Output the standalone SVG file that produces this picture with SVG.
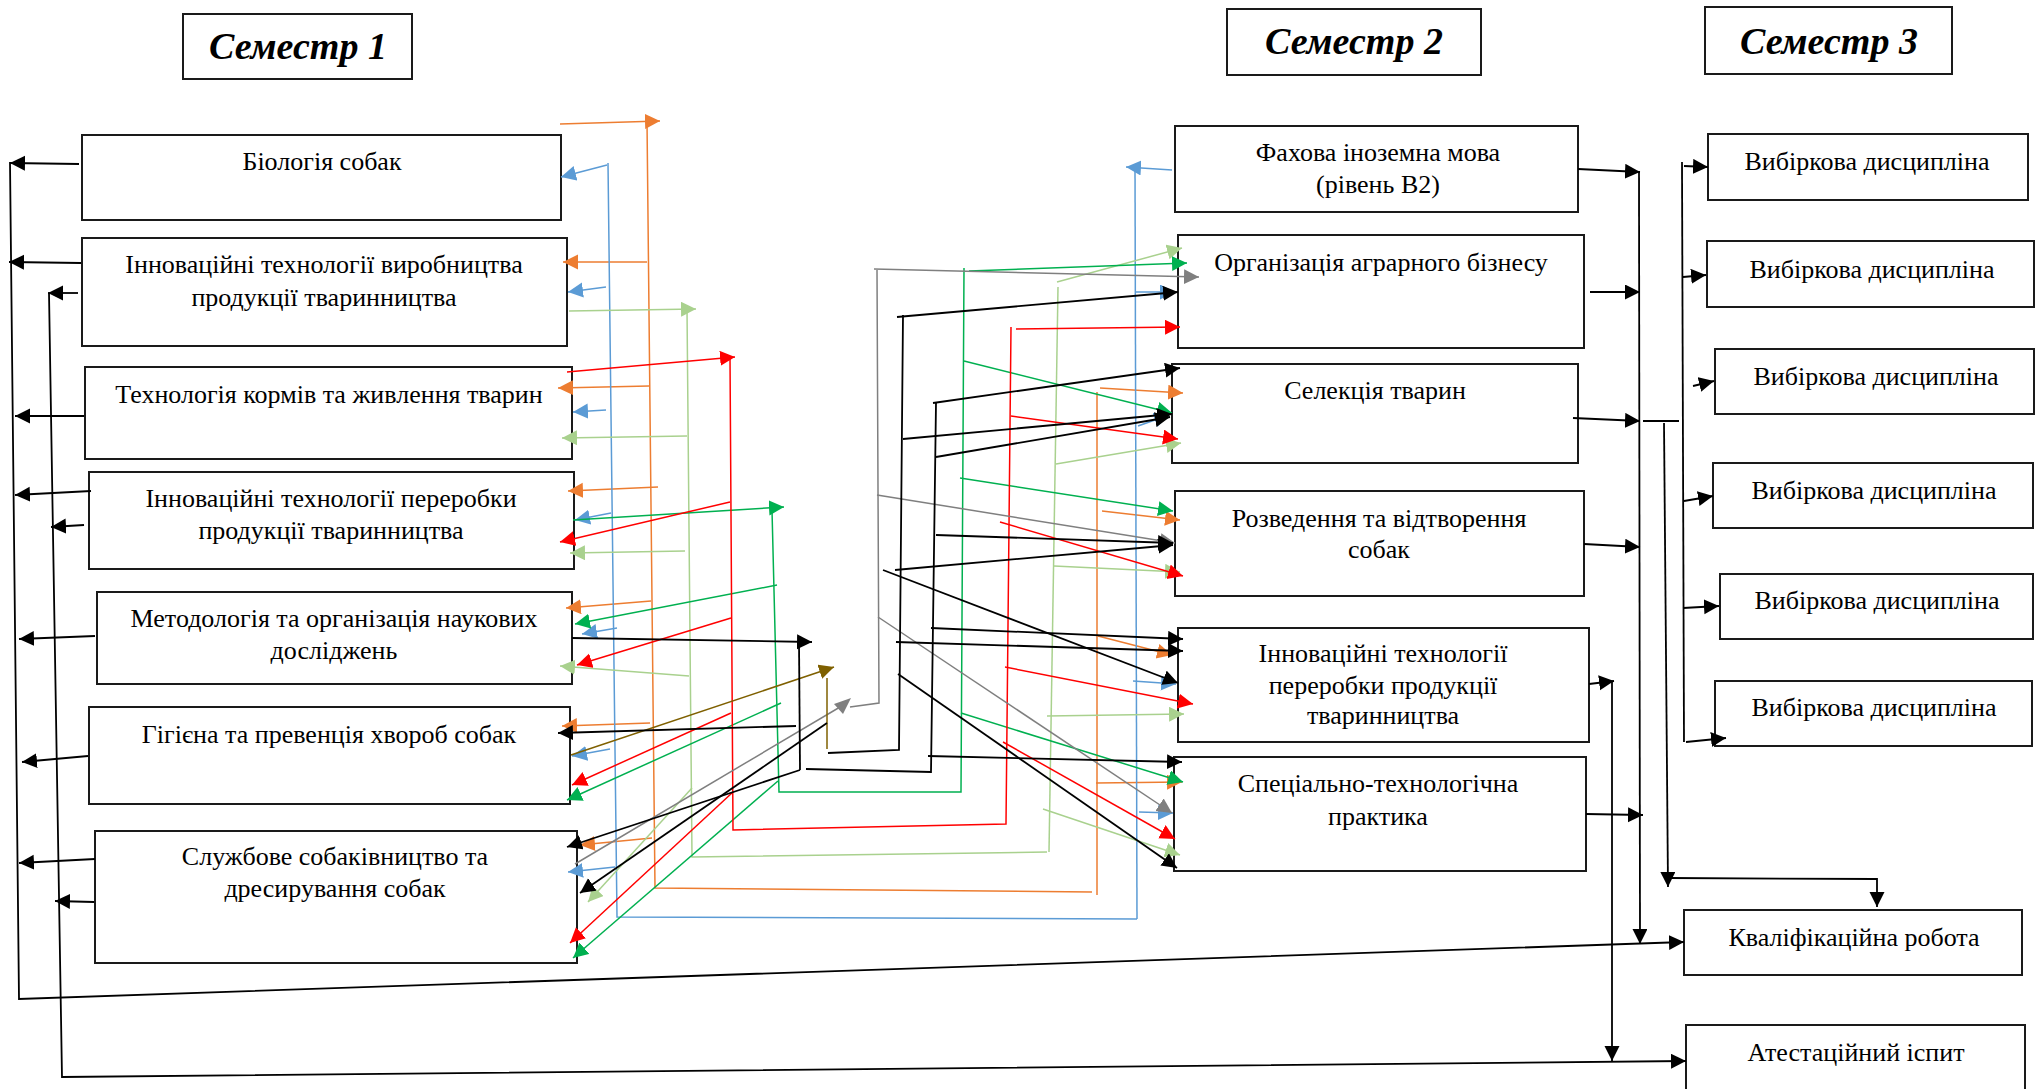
<svg xmlns="http://www.w3.org/2000/svg" width="2035" height="1089" viewBox="0 0 2035 1089">
<style>
.box{fill:#fff;stroke:#1a1a1a;stroke-width:2}
.t{font-family:"Liberation Serif","Times New Roman",serif;font-size:26px;text-anchor:middle;fill:#000}
.h{font-weight:bold;font-style:italic;font-size:38px}
.k{stroke:#000;stroke-width:1.8;fill:none}
.o{stroke:#ED7D31;stroke-width:1.5;fill:none}
.b{stroke:#5B9BD5;stroke-width:1.5;fill:none}
.lg{stroke:#A9D18E;stroke-width:1.5;fill:none}
.g{stroke:#00B050;stroke-width:1.5;fill:none}
.r{stroke:#FF0000;stroke-width:1.5;fill:none}
.gr{stroke:#7F7F7F;stroke-width:1.5;fill:none}
.br{stroke:#7F6000;stroke-width:1.5;fill:none}
.k line.a,.k polyline.a{marker-end:url(#mk)}
</style>
<defs>
<marker id="mk" markerUnits="userSpaceOnUse" markerWidth="16" markerHeight="16" refX="15" refY="7.5" orient="auto"><path d="M0,0 L15,7.5 L0,15 Z" fill="#000"/></marker>
<marker id="mo" markerUnits="userSpaceOnUse" markerWidth="16" markerHeight="16" refX="15" refY="7.5" orient="auto"><path d="M0,0 L15,7.5 L0,15 Z" fill="#ED7D31"/></marker>
<marker id="mb" markerUnits="userSpaceOnUse" markerWidth="16" markerHeight="16" refX="15" refY="7.5" orient="auto"><path d="M0,0 L15,7.5 L0,15 Z" fill="#5B9BD5"/></marker>
<marker id="mlg" markerUnits="userSpaceOnUse" markerWidth="16" markerHeight="16" refX="15" refY="7.5" orient="auto"><path d="M0,0 L15,7.5 L0,15 Z" fill="#A9D18E"/></marker>
<marker id="mg" markerUnits="userSpaceOnUse" markerWidth="16" markerHeight="16" refX="15" refY="7.5" orient="auto"><path d="M0,0 L15,7.5 L0,15 Z" fill="#00B050"/></marker>
<marker id="mr" markerUnits="userSpaceOnUse" markerWidth="16" markerHeight="16" refX="15" refY="7.5" orient="auto"><path d="M0,0 L15,7.5 L0,15 Z" fill="#FF0000"/></marker>
<marker id="mgr" markerUnits="userSpaceOnUse" markerWidth="16" markerHeight="16" refX="15" refY="7.5" orient="auto"><path d="M0,0 L15,7.5 L0,15 Z" fill="#7F7F7F"/></marker>
<marker id="mbr" markerUnits="userSpaceOnUse" markerWidth="16" markerHeight="16" refX="15" refY="7.5" orient="auto"><path d="M0,0 L15,7.5 L0,15 Z" fill="#7F6000"/></marker>
</defs>
<rect width="2035" height="1089" fill="#fff"/>

<!-- headers -->
<g id="sem1"><rect class="box" x="183" y="14" width="229" height="65"/><text class="t h" x="298" y="59">Семестр 1</text></g>
<g id="sem2"><rect class="box" x="1227" y="9" width="254" height="66"/><text class="t h" x="1354" y="54">Семестр 2</text></g>
<g id="sem3"><rect class="box" x="1705" y="7" width="247" height="67"/><text class="t h" x="1829" y="54">Семестр 3</text></g>

<!-- semester 1 nodes -->
<g id="n-biology"><rect class="box" x="82" y="135" width="479" height="85"/><text class="t" x="322" y="170">Біологія собак</text></g>
<g id="n-innov-prod"><rect class="box" x="82" y="238" width="485" height="108"/><text class="t" x="324" y="273">Інноваційні технології виробництва</text><text class="t" x="324" y="306">продукції тваринництва</text></g>
<g id="n-feed"><rect class="box" x="85" y="367" width="487" height="92"/><text class="t" x="329" y="403">Технологія кормів та живлення тварин</text></g>
<g id="n-innov-proc1"><rect class="box" x="89" y="472" width="485" height="97"/><text class="t" x="331" y="507">Інноваційні технології переробки</text><text class="t" x="331" y="539">продукції тваринництва</text></g>
<g id="n-method"><rect class="box" x="97" y="592" width="475" height="92"/><text class="t" x="334" y="627">Методологія та організація наукових</text><text class="t" x="334" y="659">досліджень</text></g>
<g id="n-hygiene"><rect class="box" x="89" y="707" width="481" height="97"/><text class="t" x="329" y="743">Гігієна та превенція хвороб собак</text></g>
<g id="n-service"><rect class="box" x="95" y="831" width="482" height="132"/><text class="t" x="335" y="865">Службове собаківництво та</text><text class="t" x="335" y="897">дресирування собак</text></g>

<!-- semester 2 nodes -->
<g id="n-language"><rect class="box" x="1175" y="126" width="403" height="86"/><text class="t" x="1378" y="161">Фахова іноземна мова</text><text class="t" x="1378" y="193">(рівень В2)</text></g>
<g id="n-business"><rect class="box" x="1178" y="235" width="406" height="113"/><text class="t" x="1381" y="271">Організація аграрного бізнесу</text></g>
<g id="n-selection"><rect class="box" x="1172" y="364" width="406" height="99"/><text class="t" x="1375" y="399">Селекція тварин</text></g>
<g id="n-breeding"><rect class="box" x="1175" y="491" width="409" height="105"/><text class="t" x="1379" y="527">Розведення та відтворення</text><text class="t" x="1379" y="558">собак</text></g>
<g id="n-innov-proc2"><rect class="box" x="1178" y="628" width="411" height="114"/><text class="t" x="1383" y="662">Інноваційні технології</text><text class="t" x="1383" y="694">переробки продукції</text><text class="t" x="1383" y="724">тваринництва</text></g>
<g id="n-practice"><rect class="box" x="1174" y="757" width="412" height="114"/><text class="t" x="1378" y="792">Спеціально-технологічна</text><text class="t" x="1378" y="825">практика</text></g>

<!-- semester 3 nodes -->
<g id="n-elective1"><rect class="box" x="1708" y="134" width="320" height="66"/><text class="t" x="1867" y="170">Вибіркова дисципліна</text></g>
<g id="n-elective2"><rect class="box" x="1707" y="241" width="327" height="66"/><text class="t" x="1872" y="278">Вибіркова дисципліна</text></g>
<g id="n-elective3"><rect class="box" x="1715" y="349" width="319" height="65"/><text class="t" x="1876" y="385">Вибіркова дисципліна</text></g>
<g id="n-elective4"><rect class="box" x="1713" y="463" width="320" height="65"/><text class="t" x="1874" y="499">Вибіркова дисципліна</text></g>
<g id="n-elective5"><rect class="box" x="1720" y="574" width="313" height="65"/><text class="t" x="1877" y="609">Вибіркова дисципліна</text></g>
<g id="n-elective6"><rect class="box" x="1715" y="681" width="317" height="65"/><text class="t" x="1874" y="716">Вибіркова дисципліна</text></g>
<g id="n-thesis"><rect class="box" x="1684" y="910" width="338" height="65"/><text class="t" x="1854" y="946">Кваліфікаційна робота</text></g>
<g id="n-exam"><rect class="box" x="1686" y="1025" width="339" height="70"/><text class="t" x="1856" y="1061">Атестаційний іспит</text></g>

<g id="connectors">
 <!-- orange -->
 <g class="o">
  <line x1="560" y1="124" x2="660" y2="121" marker-end="url(#mo)"/>
  <polyline points="647,121 655,888 1092,892"/>
  <line x1="1097" y1="895" x2="1097" y2="392"/>
  <line x1="647" y1="262" x2="563" y2="262" marker-end="url(#mo)"/>
  <line x1="649" y1="386" x2="558" y2="388" marker-end="url(#mo)"/>
  <line x1="658" y1="487" x2="568" y2="491" marker-end="url(#mo)"/>
  <line x1="651" y1="601" x2="566" y2="608" marker-end="url(#mo)"/>
  <line x1="650" y1="723" x2="562" y2="726" marker-end="url(#mo)"/>
  <line x1="652" y1="838" x2="580" y2="845" marker-end="url(#mo)"/>
  <line x1="1100" y1="388" x2="1183" y2="393" marker-end="url(#mo)"/>
  <line x1="1102" y1="511" x2="1180" y2="520" marker-end="url(#mo)"/>
  <line x1="1098" y1="636" x2="1172" y2="655" marker-end="url(#mo)"/>
  <line x1="1096" y1="783" x2="1182" y2="782" marker-end="url(#mo)"/>
 </g>
 <!-- blue -->
 <g class="b">
  <polyline points="608,163 617,917 1137,919"/>
  <line x1="1137" y1="919" x2="1135" y2="167"/>
  <line x1="1172" y1="170" x2="1126" y2="167" marker-end="url(#mb)"/>
  <line x1="607" y1="165" x2="561" y2="177" marker-end="url(#mb)"/>
  <line x1="606" y1="287" x2="568" y2="292" marker-end="url(#mb)"/>
  <line x1="606" y1="410" x2="573" y2="412" marker-end="url(#mb)"/>
  <line x1="611" y1="513" x2="575" y2="520" marker-end="url(#mb)"/>
  <line x1="617" y1="628" x2="582" y2="634" marker-end="url(#mb)"/>
  <line x1="610" y1="749" x2="572" y2="756" marker-end="url(#mb)"/>
  <line x1="615" y1="867" x2="568" y2="872" marker-end="url(#mb)"/>
  <line x1="1136" y1="292" x2="1175" y2="292" marker-end="url(#mb)"/>
  <line x1="1138" y1="426" x2="1169" y2="415" marker-end="url(#mb)"/>
  <line x1="1133" y1="681" x2="1176" y2="684" marker-end="url(#mb)"/>
  <line x1="1139" y1="812" x2="1173" y2="813" marker-end="url(#mb)"/>
 </g>
 <!-- light green -->
 <g class="lg">
  <line x1="569" y1="311" x2="696" y2="309" marker-end="url(#mlg)"/>
  <polyline points="687,309 692,857 1047,852"/>
  <line x1="1049" y1="852" x2="1058" y2="287"/>
  <line x1="687" y1="436" x2="562" y2="438" marker-end="url(#mlg)"/>
  <line x1="685" y1="551" x2="570" y2="553" marker-end="url(#mlg)"/>
  <line x1="689" y1="676" x2="560" y2="666" marker-end="url(#mlg)"/>
  <line x1="692" y1="788" x2="588" y2="902" marker-end="url(#mlg)"/>
  <line x1="1057" y1="282" x2="1182" y2="248" marker-end="url(#mlg)"/>
  <line x1="1056" y1="464" x2="1181" y2="443" marker-end="url(#mlg)"/>
  <line x1="1054" y1="566" x2="1180" y2="572" marker-end="url(#mlg)"/>
  <line x1="1047" y1="716" x2="1184" y2="714" marker-end="url(#mlg)"/>
  <line x1="1043" y1="809" x2="1180" y2="855" marker-end="url(#mlg)"/>
 </g>
 <!-- green -->
 <g class="g">
  <line x1="573" y1="520" x2="784" y2="507" marker-end="url(#mg)"/>
  <polyline points="772,510 779,792 961,792 964,268"/>
  <line x1="777" y1="585" x2="575" y2="624" marker-end="url(#mg)"/>
  <line x1="781" y1="703" x2="567" y2="800" marker-end="url(#mg)"/>
  <line x1="778" y1="781" x2="573" y2="958" marker-end="url(#mg)"/>
  <line x1="969" y1="271" x2="1187" y2="263" marker-end="url(#mg)"/>
  <line x1="964" y1="361" x2="1172" y2="413" marker-end="url(#mg)"/>
  <line x1="960" y1="478" x2="1173" y2="511" marker-end="url(#mg)"/>
  <line x1="961" y1="713" x2="1183" y2="782" marker-end="url(#mg)"/>
 </g>
 <!-- red -->
 <g class="r">
  <line x1="567" y1="372" x2="735" y2="357" marker-end="url(#mr)"/>
  <polyline points="730,357 733,830 1006,824 1011,327"/>
  <line x1="730" y1="502" x2="560" y2="542" marker-end="url(#mr)"/>
  <line x1="731" y1="618" x2="577" y2="665" marker-end="url(#mr)"/>
  <line x1="731" y1="713" x2="572" y2="785" marker-end="url(#mr)"/>
  <line x1="733" y1="792" x2="570" y2="943" marker-end="url(#mr)"/>
  <line x1="1016" y1="329" x2="1180" y2="327" marker-end="url(#mr)"/>
  <line x1="1011" y1="416" x2="1178" y2="439" marker-end="url(#mr)"/>
  <line x1="1000" y1="522" x2="1183" y2="576" marker-end="url(#mr)"/>
  <line x1="1005" y1="667" x2="1193" y2="704" marker-end="url(#mr)"/>
  <line x1="1003" y1="742" x2="1175" y2="839" marker-end="url(#mr)"/>
 </g>
 <!-- gray -->
 <g class="gr">
  <polyline points="877,270 879,703 850,707"/>
  <line x1="874" y1="269" x2="1199" y2="277" marker-end="url(#mgr)"/>
  <line x1="877" y1="495" x2="1175" y2="543" marker-end="url(#mgr)"/>
  <line x1="878" y1="617" x2="1172" y2="813" marker-end="url(#mgr)"/>
  <line x1="840" y1="707" x2="575" y2="864"/>
  <polygon points="834,704 851,698 843,714" fill="#7F7F7F" stroke="none"/>
 </g>
 <!-- brown -->
 <g class="br">
  <line x1="571" y1="755" x2="834" y2="667" marker-end="url(#mbr)"/>
  <line x1="827" y1="678" x2="827" y2="749"/>
 </g>
 <!-- black -->
 <g class="k">
  <polyline class="a" points="10,162 19,999 1684,942"/>
  <polyline class="a" points="49,293 62,1077 1686,1061"/>
  <line class="a" x1="79" y1="164" x2="10" y2="163"/>
  <line class="a" x1="81" y1="263" x2="9" y2="262"/>
  <line class="a" x1="78" y1="293" x2="48" y2="293"/>
  <line class="a" x1="84" y1="416" x2="15" y2="416"/>
  <line class="a" x1="91" y1="491" x2="15" y2="495"/>
  <line class="a" x1="84" y1="525" x2="51" y2="527"/>
  <line class="a" x1="95" y1="636" x2="19" y2="639"/>
  <line class="a" x1="88" y1="756" x2="22" y2="762"/>
  <line class="a" x1="95" y1="859" x2="19" y2="863"/>
  <line class="a" x1="94" y1="902" x2="55" y2="901"/>

  <line class="a" x1="572" y1="638" x2="812" y2="642"/>
  <line x1="799" y1="642" x2="800" y2="770"/>
  <line class="a" x1="796" y1="726" x2="558" y2="733"/>
  <line class="a" x1="800" y1="770" x2="567" y2="847"/>
  <line class="a" x1="827" y1="723" x2="580" y2="893"/>
  <polyline points="828,753 899,750 903,315"/>
  <line class="a" x1="897" y1="317" x2="1178" y2="292"/>
  <line class="a" x1="903" y1="439" x2="1172" y2="414"/>
  <line class="a" x1="895" y1="570" x2="1173" y2="545"/>
  <line class="a" x1="896" y1="642" x2="1183" y2="651"/>
  <line class="a" x1="898" y1="674" x2="1177" y2="868"/>
  <polyline points="806,769 931,772 936,403"/>
  <line class="a" x1="933" y1="403" x2="1180" y2="368"/>
  <line class="a" x1="936" y1="457" x2="1170" y2="417"/>
  <line class="a" x1="936" y1="535" x2="1173" y2="543"/>
  <line class="a" x1="931" y1="628" x2="1183" y2="639"/>
  <line class="a" x1="928" y1="756" x2="1182" y2="762"/>
  <line class="a" x1="883" y1="570" x2="1178" y2="683"/>

  <line class="a" x1="1639" y1="171" x2="1640" y2="944"/>
  <line class="a" x1="1578" y1="169" x2="1640" y2="172"/>
  <line class="a" x1="1590" y1="292" x2="1640" y2="292"/>
  <line class="a" x1="1573" y1="418" x2="1640" y2="421"/>
  <line class="a" x1="1584" y1="544" x2="1640" y2="547"/>
  <line class="a" x1="1586" y1="814" x2="1643" y2="815"/>
  <line class="a" x1="1589" y1="684" x2="1614" y2="681"/>
  <line class="a" x1="1612" y1="681" x2="1612" y2="1061"/>
  <line x1="1643" y1="421" x2="1679" y2="421"/>
  <line x1="1682" y1="162" x2="1684" y2="742"/>
  <line class="a" x1="1684" y1="166" x2="1708" y2="167"/>
  <line class="a" x1="1683" y1="277" x2="1706" y2="275"/>
  <line class="a" x1="1693" y1="386" x2="1714" y2="381"/>
  <line class="a" x1="1684" y1="501" x2="1713" y2="496"/>
  <line class="a" x1="1683" y1="608" x2="1719" y2="606"/>
  <line class="a" x1="1686" y1="742" x2="1726" y2="738"/>
  <line class="a" x1="1664" y1="423" x2="1668" y2="887"/>
  <polyline class="a" points="1668,878 1877,879 1877,907"/>
 </g>
</g>
</svg>
